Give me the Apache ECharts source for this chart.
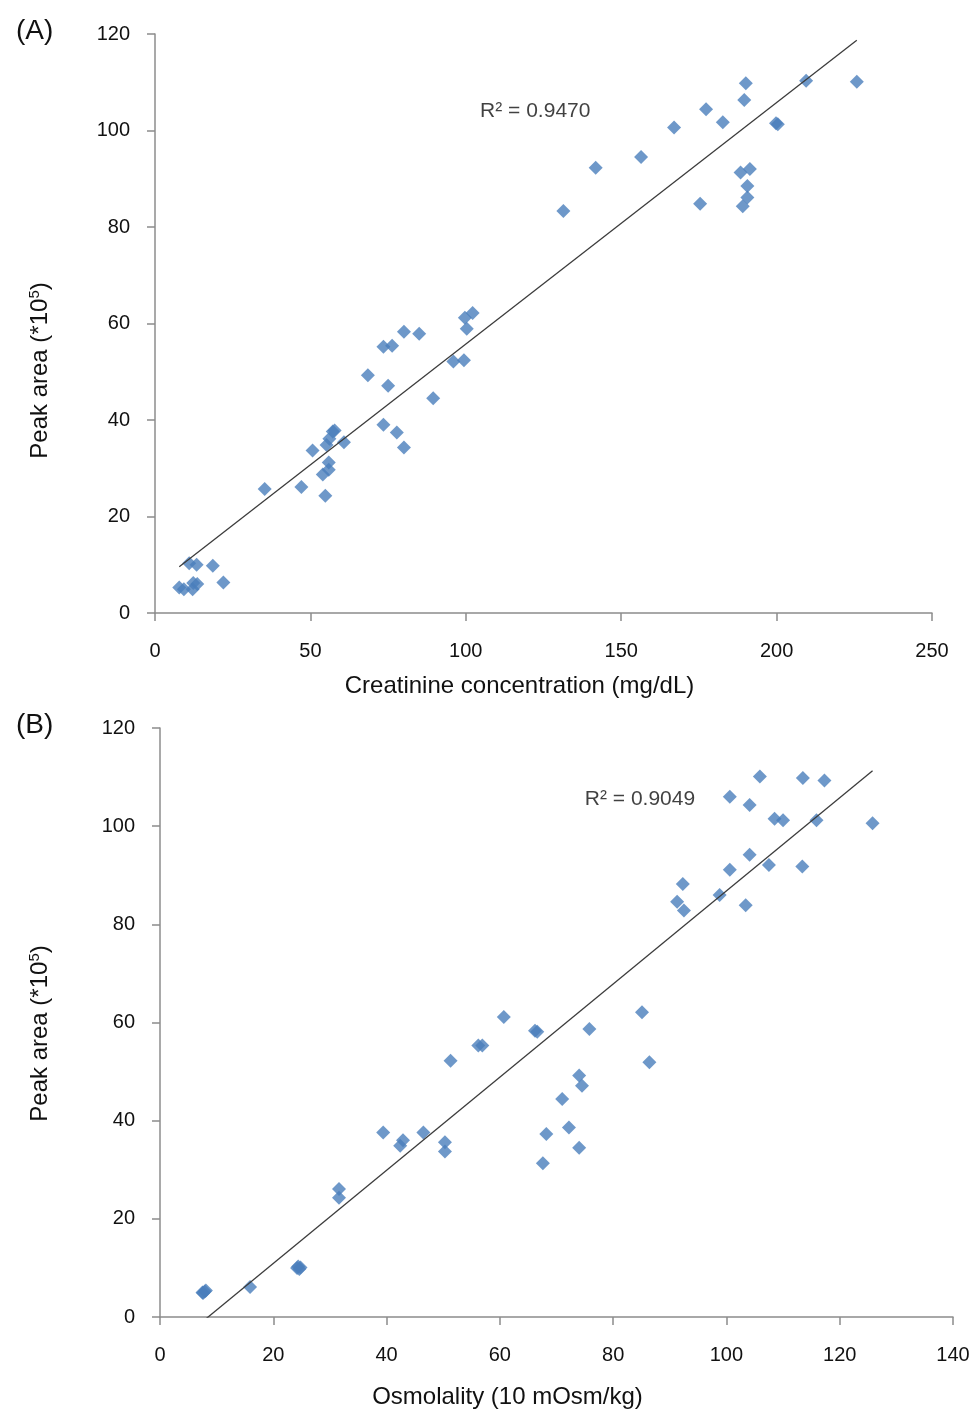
<!DOCTYPE html>
<html>
<head>
<meta charset="utf-8">
<title>Peak area vs creatinine and osmolality</title>
<script src="https://cdn.jsdelivr.net/npm/echarts@6/dist/echarts.min.js"></script>
<style>
  html, body { margin: 0; padding: 0; background: #fff; }
  #chart { width: 980px; height: 1416px; }
</style>
</head>
<body>
<div id="chart"></div>
<script>
// Panel A: creatinine concentration (mg/dL) vs peak area (*10^5)
const creatinine = [7.8, 9.3, 12.1, 12.3, 13.6, 11.0, 13.4, 18.6, 22.0, 35.3, 47.1, 54.8, 54.0, 55.9, 55.9, 50.7, 55.2, 56.1, 57.8, 57.2, 60.8, 73.5, 77.8, 80.1, 68.5, 75.0, 73.5, 76.3, 80.1, 85.0, 89.5, 96.0, 99.4, 100.3, 99.7, 102.2, 131.4, 141.8, 156.4, 167.0, 177.3, 182.7, 175.4, 190.1, 189.6, 188.4, 191.4, 190.6, 190.6, 189.1, 199.8, 200.4, 209.5, 225.8];
const peakAreaA = [5.3, 4.9, 4.9, 6.2, 6.0, 10.3, 10.0, 9.8, 6.3, 25.7, 26.1, 24.3, 28.7, 29.7, 31.2, 33.7, 34.8, 36.1, 37.8, 37.6, 35.4, 39.0, 37.4, 34.3, 49.3, 47.1, 55.2, 55.4, 58.3, 57.9, 44.5, 52.1, 52.4, 58.9, 61.2, 62.2, 83.3, 92.3, 94.5, 100.6, 104.4, 101.7, 84.8, 109.8, 106.3, 91.3, 92.0, 88.5, 86.1, 84.3, 101.5, 101.3, 110.3, 110.1];
// Linear trend for panel A: [slope, intercept], and its R² label
const trendA = [0.5005, 5.7];
const r2A = 'R\u00B2 = 0.9470';
const r2PosA = [104.6, 104.0];

// Panel B: osmolality (10 mOsm/kg) vs peak area (*10^5)
const osmolality = [7.6, 7.9, 7.5, 8.1, 15.9, 24.4, 24.6, 24.2, 24.8, 31.6, 31.6, 39.4, 42.4, 42.9, 46.5, 50.3, 50.3, 51.3, 56.2, 56.9, 60.7, 66.2, 66.6, 75.8, 85.1, 86.4, 74.0, 74.5, 71.0, 68.2, 72.2, 74.0, 67.6, 92.3, 91.3, 92.5, 98.8, 105.9, 113.5, 117.3, 100.6, 104.1, 108.5, 110.0, 115.9, 125.8, 104.1, 100.6, 107.5, 113.4, 103.4];
const peakAreaB = [4.9, 5.2, 5.0, 5.4, 6.1, 10.3, 9.8, 10.0, 10.1, 26.1, 24.3, 37.6, 34.9, 36.0, 37.6, 35.6, 33.7, 52.2, 55.3, 55.3, 61.1, 58.3, 58.1, 58.7, 62.1, 51.9, 49.2, 47.1, 44.4, 37.3, 38.6, 34.5, 31.3, 88.2, 84.6, 82.8, 86.0, 110.1, 109.8, 109.3, 106.0, 104.3, 101.5, 101.2, 101.2, 100.6, 94.2, 91.1, 92.1, 91.8, 83.9];
const trendB = [0.9488, -8.06];
const r2B = 'R\u00B2 = 0.9049';
const r2PosB = [75.0, 105.4];

// Axis ranges and ticks
const yTicks = [0, 20, 40, 60, 80, 100, 120];
const xTicksA = [0, 50, 100, 150, 200, 250];
const xTicksB = [0, 20, 40, 60, 80, 100, 120, 140];
const panelLabels = ['(A)', '(B)'];
const xNames = ['Creatinine concentration (mg/dL)', 'Osmolality (10 mOsm/kg)'];
const yName = 'Peak area (*10{sup|5})';

const FONT = 'Arial, "Liberation Sans", sans-serif';
const MARKER = '#4A7EBB';
const AXIS = '#8C8C8C';
const TEXT = '#111111';

function pairs(xs, ys) { return xs.map((x, i) => [x, ys[i]]); }
function trendEnds(xs, coef) {
  const lo = Math.min(...xs), hi = Math.max(...xs);
  return [[lo, coef[0] * lo + coef[1]], [hi, coef[0] * hi + coef[1]]];
}

// x axis; shiftLeft moves the centred title to the left of the plot centre
function xAxis(idx, ticks, name, gap, shiftLeft) {
  return {
    type: 'value', gridIndex: idx,
    min: ticks[0], max: ticks[ticks.length - 1], interval: ticks[1] - ticks[0],
    name: name, nameLocation: 'middle', nameGap: gap,
    nameTextStyle: { fontFamily: FONT, fontSize: 24, color: TEXT, padding: [0, shiftLeft * 2, 0, 0] },
    axisLine: { show: true, lineStyle: { color: AXIS, width: 1.5 } },
    axisTick: { show: true, length: 8, lineStyle: { color: AXIS, width: 1.5 } },
    axisLabel: { fontFamily: FONT, fontSize: 20, color: TEXT, margin: 28 },
    splitLine: { show: false }
  };
}
// y axis; shiftDown moves the rotated title below the plot centre
function yAxis(idx, gap, shiftDown) {
  return {
    type: 'value', gridIndex: idx,
    min: yTicks[0], max: yTicks[yTicks.length - 1], interval: yTicks[1] - yTicks[0],
    name: yName, nameLocation: 'middle', nameGap: gap,
    nameTextStyle: {
      fontFamily: FONT, fontSize: 24, color: TEXT, padding: [0, shiftDown * 2, 0, 0],
      rich: { sup: { fontFamily: FONT, fontSize: 15, verticalAlign: 'top', padding: [0, 0, 12, 0], color: TEXT } }
    },
    axisLine: { show: true, lineStyle: { color: AXIS, width: 1.5 } },
    axisTick: { show: true, length: 8, lineStyle: { color: AXIS, width: 1.5 } },
    axisLabel: { fontFamily: FONT, fontSize: 20, color: TEXT, margin: 25 },
    splitLine: { show: false }
  };
}
function scatter(idx, xs, ys) {
  return {
    type: 'scatter', xAxisIndex: idx, yAxisIndex: idx,
    symbol: 'diamond', symbolSize: 14,
    itemStyle: { color: MARKER },
    data: pairs(xs, ys), z: 2, silent: true
  };
}
function trend(idx, xs, coef) {
  return {
    type: 'line', xAxisIndex: idx, yAxisIndex: idx,
    data: trendEnds(xs, coef), showSymbol: false, symbol: 'none',
    lineStyle: { color: '#3c3c3c', width: 1.3 }, clip: true, z: 3, silent: true
  };
}
function r2Label(idx, pos, text) {
  return {
    type: 'scatter', xAxisIndex: idx, yAxisIndex: idx,
    data: [pos], symbolSize: 0, silent: true,
    label: {
      show: true, position: 'right', distance: 0, formatter: text,
      fontFamily: FONT, fontSize: 21, color: TEXT
    }
  };
}

const chart = echarts.init(document.getElementById('chart'), null, { renderer: 'canvas' });
chart.setOption({
  backgroundColor: '#ffffff',
  animation: false,
  title: [
    { text: panelLabels[0], left: 11, top: 12, textStyle: { fontFamily: FONT, fontSize: 28, fontWeight: 'normal', color: TEXT } },
    { text: panelLabels[1], left: 11, top: 706, textStyle: { fontFamily: FONT, fontSize: 28, fontWeight: 'normal', color: TEXT } }
  ],
  grid: [
    { left: 155, top: 34, width: 777, height: 579 },
    { left: 160, top: 728, width: 793, height: 589 }
  ],
  xAxis: [xAxis(0, xTicksA, xNames[0], 61, 24), xAxis(1, xTicksB, xNames[1], 68, 49)],
  yAxis: [yAxis(0, 101, 47), yAxis(1, 106, 11)],
  series: [
    scatter(0, creatinine, peakAreaA),
    trend(0, creatinine, trendA),
    r2Label(0, r2PosA, r2A),
    scatter(1, osmolality, peakAreaB),
    trend(1, osmolality, trendB),
    r2Label(1, r2PosB, r2B)
  ]
});
</script>
</body>
</html>
